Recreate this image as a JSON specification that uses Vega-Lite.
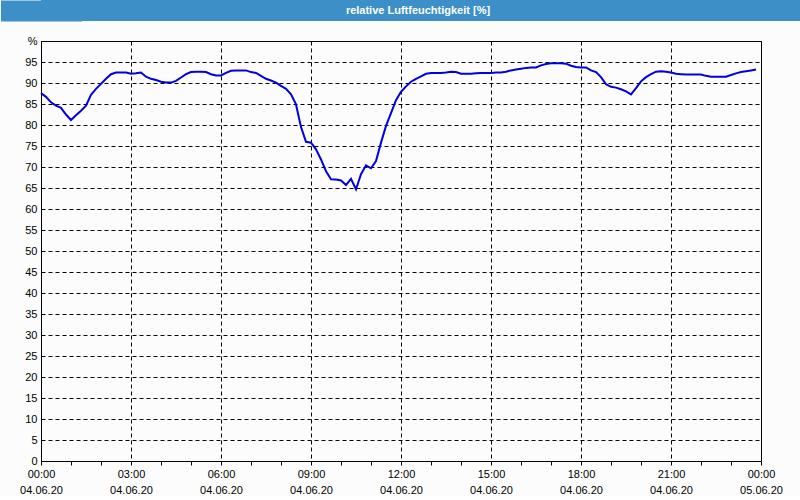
{
  "$schema": "https://vega.github.io/schema/vega-lite/v6.json",
  "background": "#fbfcfb",
  "padding": 0,
  "spacing": 13,
  "config": {"font": "Liberation Sans", "view": {"stroke": null}},
  "vconcat": [
    {
      "width": 760,
      "height": 21,
      "view": {"fill": "#3c8fc7", "stroke": null},
      "data": {"values": [{"label": "relative Luftfeuchtigkeit [%]"}]},
      "mark": {"type": "text", "color": "#ffffff", "fontWeight": "bold", "fontSize": 11, "font": "Liberation Sans", "dx": -3},
      "encoding": {
        "text": {"field": "label", "type": "nominal"},
        "y": {
          "datum": 0.5, "type": "quantitative",
          "scale": {"domain": [0, 1], "nice": false},
          "axis": {"title": null, "labels": false, "ticks": false, "grid": false, "domain": true, "domainColor": "#3c8fc7", "domainWidth": 81, "domainCap": "butt"}
        }
      }
    },
    {
      "width": 720,
      "height": 420,
      "view": {"stroke": "#000000", "strokeWidth": 1, "fill": "#fbfcfb"},
      "data": {"values": [
        {"min": 0, "rh": 87.6}, {"min": 10, "rh": 86.7}, {"min": 20, "rh": 85.4}, {"min": 30, "rh": 84.6}, {"min": 40, "rh": 84.1}, {"min": 50, "rh": 82.5},
        {"min": 60, "rh": 81.2}, {"min": 70, "rh": 82.3}, {"min": 80, "rh": 83.4}, {"min": 90, "rh": 84.6}, {"min": 100, "rh": 87.2}, {"min": 110, "rh": 88.6},
        {"min": 120, "rh": 89.8}, {"min": 130, "rh": 91.0}, {"min": 140, "rh": 92.1}, {"min": 150, "rh": 92.5}, {"min": 160, "rh": 92.5}, {"min": 170, "rh": 92.5},
        {"min": 180, "rh": 92.2}, {"min": 190, "rh": 92.3}, {"min": 200, "rh": 92.5}, {"min": 210, "rh": 91.5}, {"min": 220, "rh": 91.0}, {"min": 230, "rh": 90.7},
        {"min": 240, "rh": 90.3}, {"min": 250, "rh": 90.1}, {"min": 260, "rh": 90.1}, {"min": 270, "rh": 90.5}, {"min": 280, "rh": 91.3}, {"min": 290, "rh": 92.1},
        {"min": 300, "rh": 92.6}, {"min": 310, "rh": 92.7}, {"min": 320, "rh": 92.7}, {"min": 330, "rh": 92.6}, {"min": 340, "rh": 92.1}, {"min": 350, "rh": 91.8},
        {"min": 360, "rh": 91.8}, {"min": 370, "rh": 92.4}, {"min": 380, "rh": 92.9}, {"min": 390, "rh": 93.0}, {"min": 400, "rh": 93.0}, {"min": 410, "rh": 93.0},
        {"min": 420, "rh": 92.6}, {"min": 430, "rh": 92.4}, {"min": 440, "rh": 91.7}, {"min": 450, "rh": 91.0}, {"min": 460, "rh": 90.6}, {"min": 470, "rh": 90.1},
        {"min": 480, "rh": 89.3}, {"min": 490, "rh": 88.6}, {"min": 500, "rh": 87.3}, {"min": 510, "rh": 84.9}, {"min": 520, "rh": 79.5}, {"min": 530, "rh": 76.0},
        {"min": 540, "rh": 75.8}, {"min": 550, "rh": 74.2}, {"min": 560, "rh": 71.8}, {"min": 570, "rh": 69.0}, {"min": 580, "rh": 67.1}, {"min": 590, "rh": 67.0},
        {"min": 600, "rh": 66.8}, {"min": 610, "rh": 65.7}, {"min": 620, "rh": 67.2}, {"min": 630, "rh": 64.7}, {"min": 640, "rh": 68.3}, {"min": 650, "rh": 70.4},
        {"min": 660, "rh": 69.7}, {"min": 670, "rh": 71.4}, {"min": 680, "rh": 75.8}, {"min": 690, "rh": 79.8}, {"min": 700, "rh": 82.8}, {"min": 710, "rh": 85.9},
        {"min": 720, "rh": 87.9}, {"min": 730, "rh": 89.2}, {"min": 740, "rh": 90.3}, {"min": 750, "rh": 91.0}, {"min": 760, "rh": 91.6}, {"min": 770, "rh": 92.2},
        {"min": 780, "rh": 92.4}, {"min": 790, "rh": 92.4}, {"min": 800, "rh": 92.4}, {"min": 810, "rh": 92.5}, {"min": 820, "rh": 92.7}, {"min": 830, "rh": 92.6},
        {"min": 840, "rh": 92.2}, {"min": 850, "rh": 92.2}, {"min": 860, "rh": 92.2}, {"min": 870, "rh": 92.3}, {"min": 880, "rh": 92.4}, {"min": 890, "rh": 92.4},
        {"min": 900, "rh": 92.4}, {"min": 910, "rh": 92.5}, {"min": 920, "rh": 92.5}, {"min": 930, "rh": 92.7}, {"min": 940, "rh": 93.0}, {"min": 950, "rh": 93.2},
        {"min": 960, "rh": 93.4}, {"min": 970, "rh": 93.6}, {"min": 980, "rh": 93.7}, {"min": 990, "rh": 93.7}, {"min": 1000, "rh": 94.2}, {"min": 1010, "rh": 94.5},
        {"min": 1020, "rh": 94.7}, {"min": 1030, "rh": 94.7}, {"min": 1040, "rh": 94.7}, {"min": 1050, "rh": 94.6}, {"min": 1060, "rh": 94.1}, {"min": 1070, "rh": 93.8},
        {"min": 1080, "rh": 93.7}, {"min": 1090, "rh": 93.7}, {"min": 1100, "rh": 93.0}, {"min": 1110, "rh": 92.6}, {"min": 1120, "rh": 91.4}, {"min": 1130, "rh": 89.7},
        {"min": 1140, "rh": 89.1}, {"min": 1150, "rh": 88.9}, {"min": 1160, "rh": 88.5}, {"min": 1170, "rh": 88.0}, {"min": 1180, "rh": 87.3}, {"min": 1190, "rh": 88.8},
        {"min": 1200, "rh": 90.4}, {"min": 1210, "rh": 91.4}, {"min": 1220, "rh": 92.1}, {"min": 1230, "rh": 92.7}, {"min": 1240, "rh": 92.8}, {"min": 1250, "rh": 92.7},
        {"min": 1260, "rh": 92.5}, {"min": 1270, "rh": 92.2}, {"min": 1280, "rh": 92.1}, {"min": 1290, "rh": 92.0}, {"min": 1300, "rh": 92.0}, {"min": 1310, "rh": 92.0},
        {"min": 1320, "rh": 92.0}, {"min": 1330, "rh": 91.7}, {"min": 1340, "rh": 91.5}, {"min": 1350, "rh": 91.5}, {"min": 1360, "rh": 91.5}, {"min": 1370, "rh": 91.5},
        {"min": 1380, "rh": 91.9}, {"min": 1390, "rh": 92.3}, {"min": 1400, "rh": 92.6}, {"min": 1410, "rh": 92.8}, {"min": 1420, "rh": 93.0}, {"min": 1430, "rh": 93.2}
      ]},
      "mark": {"type": "line", "color": "#0000e0", "strokeWidth": 2},
      "encoding": {
        "x": {
          "field": "min", "type": "quantitative",
          "scale": {"domain": [0, 1440], "nice": false, "zero": false},
          "axis": {
            "title": null,
            "values": [0, 60, 120, 180, 240, 300, 360, 420, 480, 540, 600, 660, 720, 780, 840, 900, 960, 1020, 1080, 1140, 1200, 1260, 1320, 1380, 1440],
            "labelExpr": "datum.value % 180 == 0 ? [(floor(datum.value / 60) % 24 < 10 ? '0' : '') + (floor(datum.value / 60) % 24) + ':00', datum.value >= 1440 ? '05.06.20' : '04.06.20'] : ''",
            "labelOverlap": false,
            "labelFlush": false,
            "labelFontSize": 11,
            "labelColor": "#000000",
            "labelLineHeight": 16,
            "labelBaseline": "top",
            "labelPadding": 3,
            "domain": false,
            "tickColor": "#000000",
            "tickSize": 4,
            "grid": true,
            "gridColor": "#000000",
            "gridDash": [4, 3],
            "gridWidth": 1,
            "gridOpacity": {"condition": {"test": "datum.value % 180 == 0", "value": 1}, "value": 0}
          }
        },
        "y": {
          "field": "rh", "type": "quantitative",
          "scale": {"domain": [0, 100], "nice": false},
          "axis": {
            "title": null,
            "values": [0, 5, 10, 15, 20, 25, 30, 35, 40, 45, 50, 55, 60, 65, 70, 75, 80, 85, 90, 95, 100],
            "labelExpr": "datum.value == 100 ? '%' : datum.label",
            "labelFontSize": 11,
            "labelColor": "#000000",
            "labelPadding": 4,
            "domain": false,
            "ticks": false,
            "grid": true,
            "gridColor": "#000000",
            "gridDash": [4, 3],
            "gridWidth": 1,
            "minExtent": 40
          }
        }
      }
    }
  ]
}
